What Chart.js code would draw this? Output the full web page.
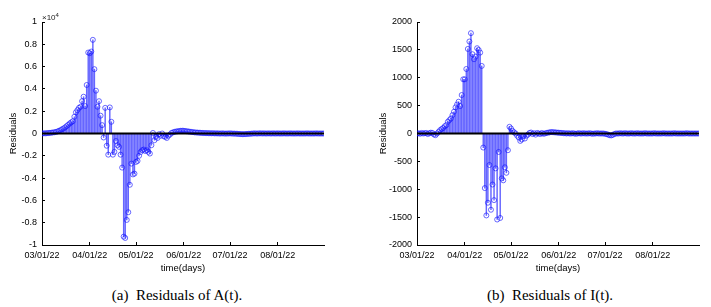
<!DOCTYPE html>
<html><head><meta charset="utf-8">
<script src="https://cdn.jsdelivr.net/npm/chart.js@4.4.0/dist/chart.umd.min.js"></script>
<style>
html,body{margin:0;padding:0;background:#fff;}
#wrap{position:relative;width:711px;height:307px;overflow:hidden;background:#fff;}
canvas{position:absolute;top:0;}
#c1{left:0;} #c2{left:355px;}
.cap{position:absolute;top:287px;font-family:'Liberation Serif','Times New Roman',serif;font-size:15px;line-height:17px;white-space:nowrap;transform:translateX(-50%);color:#000;}
.mult{position:absolute;left:42px;top:11px;font-family:'Liberation Sans',Arial,sans-serif;font-size:8px;line-height:9px;color:#222;}
.mult sup{font-size:6px;vertical-align:3px;}
</style></head>
<body><div id="wrap">
<canvas id="c1" width="355" height="280"></canvas>
<canvas id="c2" width="356" height="280"></canvas>
<div class="mult">×10<sup>4</sup></div>
<div class="cap" style="left:177px">(a)&nbsp; Residuals of A(t).</div>
<div class="cap" style="left:550px">(b)&nbsp; Residuals of I(t).</div>
</div>
<script>
const tickDays = [0, 31, 61, 92, 122, 153];
const tickLabels = ['03/01/22', '04/01/22', '05/01/22', '06/01/22', '07/01/22', '08/01/22'];
const lastDay = 183;

const residualsA = [
  0, 20, 10, 30, 40, 50, 70, 90, 110, 140,
  180, 240, 300, 380, 450, 550, 660, 780, 900, 1000,
  1100, 1500, 1900, 2100, 2300, 2400, 2900, 3300, 2460, 4350,
  7260, 7200, 7350, 8400, 5770, 3840, 2400, 2900, 1600, 750,
  -360, 2300, -1100, -1900, 2340, 1050, -1900, -1650, -670, -1050,
  -1200, -1900, -3060, -9250, -9370, -7750, -7060, -4600, -2700, -3670,
  -3600, -2550, -2460, -2000, -1660, -1500, -1440, -1570, -1500, -1650,
  -1800, -1050, 50, -600, -300, -400, -60, -200, 0, -250,
  -300, -400, -200, -100, 50, 100, 150, 180, 200, 220,
  240, 250, 240, 220, 200, 180, 160, 140, 120, 100,
  90, 80, 70, 60, 50, 40, 40, 30, 30, 20,
  20, 20, 10, 10, 10, 0, 0, 10, 0, -10,
  0, 0, 10, 0, -10, -10, -20, -30, -40, -50,
  -60, -60, -50, -40, -30, -20, -10, 0, 10, 0,
  0, 10, 10, 0, 10, 0, 0, 10, 0, 0,
  10, 0, 0, 10, 0, 0, 0, 10, 0, 0,
  0, 10, 0, 0, 0, 0, 10, 0, 0, 0,
  0, 0, 10, 0, 0, 0, 0, 0, 10, 0,
  0, 0, 0, 0
];

const residualsI = [
  0, 5, -5, 10, 0, 5, 10, -10, 5, 15,
  10, -18, -30, 0, 30, 60, 80, 100, 130, 150,
  210, 240, 270, 330, 390, 468, 520, 570, 492, 690,
  972, 972, 1157, 1517, 1650, 1800, 1422, 1332, 1380, 1530,
  1500, 1451, 1212, -252, -979, -1470, -1242, -565, -1368, -915,
  -1195, -625, -1543, -331, -1515, -805, -840, -606, -705, -300,
  120, 90, 47, 20, 0, -40, -72, -133, -108, -48,
  -90, -40, -20, 10, 18, -10, 5, -20, 10, 0,
  -10, 10, -5, 0, 10, 15, 20, 25, 25, 20,
  20, 15, 15, 10, 10, 5, 5, 0, 5, 0,
  0, 5, 0, -5, 0, 5, 0, 0, 5, 0,
  0, 0, 5, 0, -5, 0, 0, 5, 0, 0,
  0, 0, -5, -10, -20, -30, -35, -25, -10, 0,
  0, 0, 5, 0, 0, 5, 0, 0, 0, 5,
  0, 0, 0, 5, 0, 0, 0, 0, 5, 0,
  0, 0, 0, 0, 5, 0, 0, 0, 0, 0,
  5, 0, 0, 0, 0, 0, 0, 5, 0, 0,
  0, 0, 0, 0, 0, 5, 0, 0, 0, 0,
  0, 0, 0, 0
];

const yRangeA = {min: -10000, max: 10000, step: 2000};
const yRangeI = {min: -2000, max: 2000, step: 500};

const tickFont = {family: "'Liberation Sans', Arial, sans-serif", size: 9};
const titleFont = {family: "'Liberation Sans', Arial, sans-serif", size: 9.5};

function build(id, vals, yr, fmt, yAxisW, padR, yTitlePad) {
  const pts = vals.map((v, i) => ({x: i, y: v}));
  const axisGrid = {display: true, drawOnChartArea: false, drawTicks: true, tickLength: -3, color: '#000', lineWidth: 1, offset: false};
  const axisBorder = {display: true, color: '#000', width: 1};
  return new Chart(document.getElementById(id), {
    type: 'bar',
    data: {datasets: [
      {type: 'line', data: [{x: 0, y: 0}, {x: lastDay, y: 0}], borderColor: '#000', borderWidth: 2, pointRadius: 0, order: 0},
      {type: 'scatter', data: pts, borderColor: 'rgba(20,20,255,0.8)', backgroundColor: 'rgba(0,0,0,0)', pointRadius: 2.5, pointBorderWidth: 0.8, pointStyle: 'circle', order: 1},
      {type: 'bar', data: pts, backgroundColor: 'rgba(0,0,255,0.6)', barThickness: 0.8, order: 2}
    ]},
    options: {
      responsive: false, animation: false, events: [],
      layout: {padding: {left: 0, right: padR, top: 22, bottom: 0}},
      plugins: {legend: {display: false}, tooltip: {enabled: false}},
      scales: {
        x: {
          type: 'linear', min: 0, max: lastDay, offset: false,
          afterBuildTicks: s => { s.ticks = tickDays.map(v => ({value: v})); },
          ticks: {autoSkip: false, maxRotation: 0, font: tickFont, color: '#000', padding: 8,
                  callback: (v, i) => tickLabels[i]},
          grid: axisGrid, border: axisBorder,
          title: {display: true, text: 'time(days)', font: titleFont, color: '#000', padding: {top: 0, bottom: 6.3}},
          afterFit: s => { s.height = 35; }
        },
        y: {
          min: yr.min, max: yr.max,
          ticks: {stepSize: yr.step, font: tickFont, color: '#000', padding: 8, callback: fmt},
          grid: axisGrid, border: axisBorder,
          title: {display: true, text: 'Residuals', font: titleFont, color: '#000', padding: {top: yTitlePad, bottom: 0}},
          afterFit: s => { s.width = yAxisW; }
        }
      }
    }
  });
}

build('c1', residualsA, yRangeA, v => String(Math.round(v / 1000) / 10), 42, 31, 7.3);
build('c2', residualsI, yRangeI, v => String(v), 62, 12, 22.3);
</script>
</body></html>
